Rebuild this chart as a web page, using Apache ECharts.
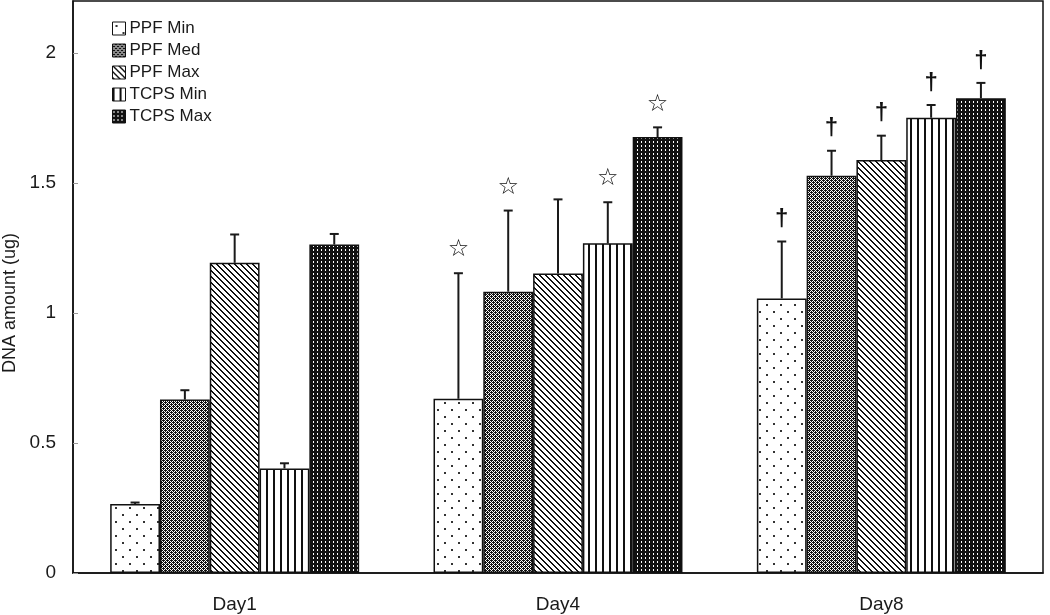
<!DOCTYPE html>
<html>
<head>
<meta charset="utf-8">
<script src="https://cdn.jsdelivr.net/npm/echarts@6/dist/echarts.min.js"></script>
<style>
html,body{margin:0;padding:0;background:#fff;}
#chart{width:1050px;height:615px;}
</style>
</head>
<body>
<div id="chart"></div>
<script>
// ---- data ----
const categories = ['Day1', 'Day4', 'Day8'];
const seriesNames = ['PPF Min', 'PPF Med', 'PPF Max', 'TCPS Min', 'TCPS Max'];
const ppfMin  = [0.265, 0.670, 1.056];
const ppfMed  = [0.667, 1.082, 1.528];
const ppfMax  = [1.193, 1.152, 1.588];
const tcpsMin = [0.402, 1.268, 1.751];
const tcpsMax = [1.263, 1.677, 1.826];
const ppfMinErr  = [0.006, 0.483, 0.219];
const ppfMedErr  = [0.036, 0.312, 0.096];
const ppfMaxErr  = [0.109, 0.285, 0.094];
const tcpsMinErr = [0.020, 0.158, 0.049];
const tcpsMaxErr = [0.041, 0.037, 0.059];
const ppfMinMark  = ['', '\u2606', '\u2020'];
const ppfMedMark  = ['', '\u2606', '\u2020'];
const ppfMaxMark  = ['', '', '\u2020'];
const tcpsMinMark = ['', '\u2606', '\u2020'];
const tcpsMaxMark = ['', '\u2606', '\u2020'];
const yTickLabels = ['0', '0.5', '1', '1.5', '2'];

const values = [ppfMin, ppfMed, ppfMax, tcpsMin, tcpsMax];
const errors = [ppfMinErr, ppfMedErr, ppfMaxErr, tcpsMinErr, tcpsMaxErr];
const marks  = [ppfMinMark, ppfMedMark, ppfMaxMark, tcpsMinMark, tcpsMaxMark];

// ---- patterns ----
function makeTile(w, h, painter) {
  const c = document.createElement('canvas');
  c.width = w; c.height = h;
  const ctx = c.getContext('2d');
  painter(ctx, w, h);
  return c;
}
const patDots = makeTile(14, 14, (ctx, w, h) => {
  ctx.fillStyle = '#fff'; ctx.fillRect(0, 0, w, h);
  ctx.fillStyle = '#333';
  ctx.fillRect(3, 3, 2, 2);
  ctx.fillRect(10, 10, 2, 2);
});
const patChecker = makeTile(4, 4, (ctx, w, h) => {
  ctx.fillStyle = '#fff'; ctx.fillRect(0, 0, w, h);
  ctx.fillStyle = '#111';
  for (let x = 0; x < w; x++) for (let y = 0; y < h; y++) {
    if ((x + y) % 2 === 0) ctx.fillRect(x, y, 1, 1);
  }
  ctx.fillRect(1, 2, 1, 1);
  ctx.fillRect(3, 0, 1, 1);
});
const patDiag = makeTile(6, 6, (ctx, w, h) => {
  ctx.fillStyle = '#fff'; ctx.fillRect(0, 0, w, h);
  ctx.fillStyle = '#111';
  for (let x = 0; x < w; x++) for (let y = 0; y < h; y++) {
    const d = ((x - y) % 6 + 6) % 6;
    if (d === 0 || d === 1) ctx.fillRect(x, y, 1, 1);
  }
});
const patVert = makeTile(7, 4, (ctx, w, h) => {
  ctx.fillStyle = '#fff'; ctx.fillRect(0, 0, w, h);
  ctx.fillStyle = '#111';
  ctx.fillRect(0, 0, 2, h);
});
const patDark = makeTile(4, 4, (ctx, w, h) => {
  ctx.fillStyle = '#111'; ctx.fillRect(0, 0, w, h);
  ctx.fillStyle = '#fff';
  ctx.fillRect(1, 1, 1, 2);
});
const patterns = [patDots, patChecker, patDiag, patVert, patDark];

const FONT = "'Liberation Sans', Arial, sans-serif";
const CAT_GAP = 0.23;
const NB = 5;

const barSeries = seriesNames.map((name, i) => ({
  name: name,
  type: 'bar',
  data: values[i],
  barGap: '0%',
  barCategoryGap: (CAT_GAP * 100) + '%',
  itemStyle: {
    color: { image: patterns[i], repeat: 'repeat' },
    borderColor: '#111',
    borderWidth: 1.5
  },
  emphasis: { disabled: true },
  z: 2
}));

const errData = [];
for (let s = 0; s < NB; s++) {
  for (let c = 0; c < categories.length; c++) {
    errData.push([c, s, values[s][c], errors[s][c], marks[s][c]]);
  }
}

const errSeries = {
  type: 'custom',
  name: 'err',
  data: errData,
  encode: { x: 0, y: 2 },
  z: 5,
  silent: true,
  renderItem: function (params, api) {
    const c = api.value(0), s = api.value(1), v = api.value(2), e = api.value(3);
    const mark = errData[params.dataIndex][4];
    const base = api.coord([c, v]);
    const top = api.coord([c, v + e]);
    const catW = api.size([1, 0])[0];
    const bw = catW * (1 - CAT_GAP) / NB;
    const x = base[0] + (s - (NB - 1) / 2) * bw;
    const children = [
      { type: 'line', shape: { x1: x, y1: base[1], x2: x, y2: top[1] }, style: { stroke: '#1a1a1a', lineWidth: 2 } },
      { type: 'line', shape: { x1: x - 4.5, y1: top[1], x2: x + 4.5, y2: top[1] }, style: { stroke: '#1a1a1a', lineWidth: 2 } }
    ];
    if (mark) {
      const isStar = mark === '\u2606';
      children.push({
        type: 'text',
        x: x, y: top[1] - (isStar ? 23 : 22),
        style: {
          text: mark,
          fill: '#111',
          font: isStar ? "24px 'DejaVu Sans', sans-serif" : "bold 24px 'Liberation Sans', Arial, sans-serif",
          align: 'center',
          verticalAlign: 'middle'
        }
      });
    }
    return { type: 'group', children: children };
  }
};

const chart = echarts.init(document.getElementById('chart'), null, { renderer: 'canvas' });
chart.setOption({
  animation: false,
  backgroundColor: '#fff',
  textStyle: { fontFamily: FONT },
  grid: { left: 73, right: 7, top: 1, bottom: 42, show: true, borderColor: '#111', borderWidth: 1.5, containLabel: false },
  legend: {
    data: seriesNames,
    orient: 'vertical',
    left: 112,
    top: 20,
    padding: 0,
    itemWidth: 13,
    itemHeight: 13,
    itemGap: 5,
    icon: 'rect',
    selectedMode: false,
    itemStyle: { borderColor: '#111', borderWidth: 1 },
    textStyle: { fontSize: 17, color: '#1a1a1a', fontFamily: FONT, lineHeight: 17, padding: [0, 0, 0, -1] }
  },
  xAxis: {
    type: 'category',
    data: categories,
    axisLine: { lineStyle: { color: '#111', width: 1.5 } },
    axisTick: { inside: true, length: 5, lineStyle: { color: '#999' } },
    axisLabel: { fontSize: 19, color: '#1a1a1a', margin: 22, fontFamily: FONT },
    splitLine: { show: false }
  },
  yAxis: {
    type: 'value',
    min: 0,
    max: 2.2,
    interval: 0.5,
    axisLine: { show: true, lineStyle: { color: '#111', width: 1.5 } },
    axisTick: { show: true, inside: true, length: 5, lineStyle: { color: '#999' } },
    axisLabel: {
      fontSize: 19, color: '#1a1a1a', margin: 17, fontFamily: FONT,
      showMaxLabel: false,
      formatter: function (v) {
        const idx = Math.round(v / 0.5);
        return (Math.abs(v - idx * 0.5) < 1e-6 && yTickLabels[idx] !== undefined) ? yTickLabels[idx] : '';
      }
    },
    splitLine: { show: false }
  },
  graphic: [{
    type: 'text',
    x: 10, y: 303,
    rotation: Math.PI / 2,
    style: {
      text: 'DNA amount (ug)',
      font: "18px 'Liberation Sans', Arial, sans-serif",
      fill: '#1a1a1a',
      align: 'center',
      verticalAlign: 'middle'
    }
  }],
  series: barSeries.concat([errSeries])
});
</script>
</body>
</html>
